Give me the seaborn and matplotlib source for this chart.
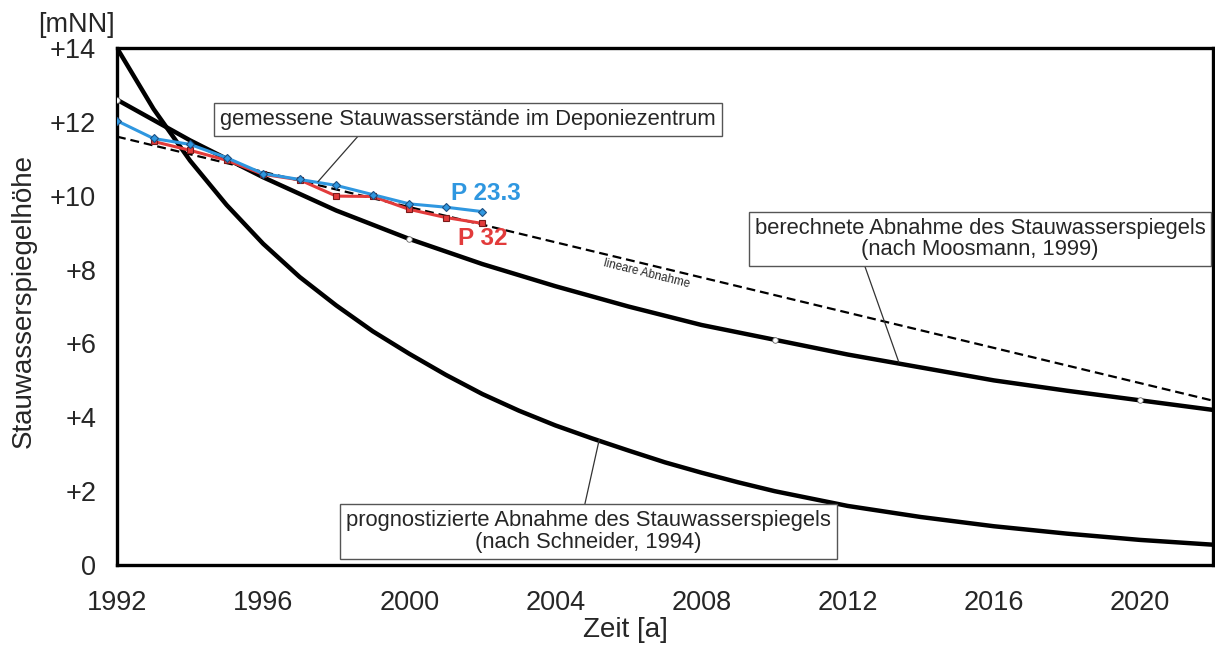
import matplotlib
matplotlib.use("Agg")
import matplotlib.pyplot as plt
import seaborn as sns
import numpy as np

# ---------------- data ----------------
schneider_years = [1992, 1993, 1994, 1995, 1996, 1997, 1998, 1999, 2000, 2001, 2002, 2003,
                   2004, 2005, 2006, 2007, 2008, 2009, 2010, 2012, 2014, 2016, 2018, 2020, 2022]
schneider_vals = [14.0, 12.35, 10.95, 9.75, 8.7, 7.8, 7.03, 6.33, 5.72, 5.15, 4.63, 4.18,
                  3.78, 3.43, 3.1, 2.78, 2.5, 2.24, 2.0, 1.6, 1.3, 1.05, 0.85, 0.68, 0.55]

moos_years = [1992, 1994, 1996, 1998, 2000, 2002, 2004, 2006, 2008, 2010,
              2012, 2014, 2016, 2018, 2020, 2022]
moos_vals = [12.6, 11.5, 10.5, 9.6, 8.83, 8.15, 7.55, 7.0, 6.5, 6.1,
             5.7, 5.35, 5.0, 4.72, 4.46, 4.2]
moos_marker_idx = [0, 4, 9, 14]

linear_years = [1992, 2022]
linear_vals = [11.6, 4.45]

p233_years = [1992, 1993, 1994, 1995, 1996, 1997, 1998, 1999, 2000, 2001, 2002]
p233_vals = [12.03, 11.55, 11.39, 11.03, 10.6, 10.44, 10.28, 10.03, 9.78, 9.69, 9.57]

p32_years = [1993, 1994, 1995, 1996, 1997, 1998, 1999, 2000, 2001, 2002]
p32_vals = [11.47, 11.23, 10.96, 10.58, 10.43, 9.99, 9.98, 9.63, 9.41, 9.25]

xticks = [1992, 1996, 2000, 2004, 2008, 2012, 2016, 2020]
yticks = [0, 2, 4, 6, 8, 10, 12, 14]
ytick_labels = ["0", "+2", "+4", "+6", "+8", "+10", "+12", "+14"]

# ---------------- style ----------------
sns.set_style("white")
plt.rcParams["font.family"] = ["Liberation Sans", "DejaVu Sans"]

BLUE = "#2f97e0"
RED = "#e23b3b"

fig = plt.figure(figsize=(12.15, 6.49), dpi=100)
ax = fig.add_axes([0.0963, 0.1294, 0.9984 - 0.0963, 0.926 - 0.1294])

sns.lineplot(x=schneider_years, y=schneider_vals, ax=ax, color="black", lw=3.2,
             sort=False, zorder=3)
sns.lineplot(x=moos_years, y=moos_vals, ax=ax, color="black", lw=3.2, sort=False,
             marker="o", markersize=4, markerfacecolor="white", markeredgecolor="#666666",
             markeredgewidth=0.6, markevery=moos_marker_idx, zorder=3)
sns.lineplot(x=linear_years, y=linear_vals, ax=ax, color="black", lw=1.6,
             linestyle=(0, (4, 2.2)), sort=False, zorder=2)
sns.lineplot(x=p233_years, y=p233_vals, ax=ax, color=BLUE, lw=2.2, sort=False,
             marker="D", markersize=4.5, markerfacecolor=BLUE, markeredgecolor="#1d4f80",
             markeredgewidth=0.8, zorder=5)
sns.lineplot(x=p32_years, y=p32_vals, ax=ax, color=RED, lw=2.2, sort=False,
             marker="s", markersize=4.5, markerfacecolor=RED, markeredgecolor="#7a1a1a",
             markeredgewidth=0.8, zorder=4)

ax.set_xlim(1992, 2022)
ax.set_ylim(0, 14)
ax.set_xticks(xticks)
ax.set_xticklabels([str(t) for t in xticks], fontsize=19.5)
ax.set_yticks(yticks)
ax.set_yticklabels(ytick_labels, fontsize=19.5)
ax.tick_params(axis="y", direction="out", length=14, width=2.2, color="black", pad=1)
ax.tick_params(axis="x", direction="out", length=9, width=2.2, color="black", pad=9)
for s in ax.spines.values():
    s.set_visible(True)
    s.set_color("black")
    s.set_linewidth(2.4)

ax.set_xlabel("Zeit [a]", fontsize=20)
ax.xaxis.set_label_coords(0.4635, -0.100)
ax.set_ylabel("Stauwasserspiegelhöhe", fontsize=20)
ax.yaxis.set_label_coords(-0.073, 0.51)
fig.text(0.063, 0.962, "[mNN]", fontsize=19.5, ha="center", va="center")

box = dict(boxstyle="square,pad=0.27", fc="white", ec="#555555", lw=1.0)
arrow = dict(arrowstyle="-", color="#333333", lw=0.9, shrinkA=0, shrinkB=0)

ax.annotate("gemessene Stauwasserstände im Deponiezentrum",
            xy=(1997.5, 10.38), xytext=(2001.6, 12.07), textcoords="data",
            ha="center", va="center", fontsize=15.8, bbox=box,
            arrowprops=dict(arrow, relpos=(0.29, 0.0)), zorder=6)
ax.annotate("berechnete Abnahme des Stauwasserspiegels\n(nach Moosmann, 1999)",
            xy=(2013.4, 5.49), xytext=(2015.62, 8.83), textcoords="data",
            ha="center", va="center", fontsize=15.8, bbox=box, linespacing=1.05,
            arrowprops=dict(arrow, relpos=(0.24, 0.0)), zorder=6)
ax.annotate("prognostizierte Abnahme des Stauwasserspiegels\n(nach Schneider, 1994)",
            xy=(2005.2, 3.40), xytext=(2004.9, 0.9), textcoords="data",
            ha="center", va="center", fontsize=15.8, bbox=box, linespacing=1.05,
            arrowprops=dict(arrow, relpos=(0.49, 1.0)), zorder=6)

ax.text(2002.1, 10.05, "P 23.3", color=BLUE, fontsize=17.5, fontweight="bold",
        ha="center", va="center", zorder=7)
ax.text(2002.0, 8.83, "P 32", color=RED, fontsize=17.5, fontweight="bold",
        ha="center", va="center", zorder=7)
ax.text(2006.5, 7.88, "lineare Abnahme", fontsize=8.5, rotation=-14,
        ha="center", va="center", zorder=7)

fig.savefig("out.png", dpi=100)
